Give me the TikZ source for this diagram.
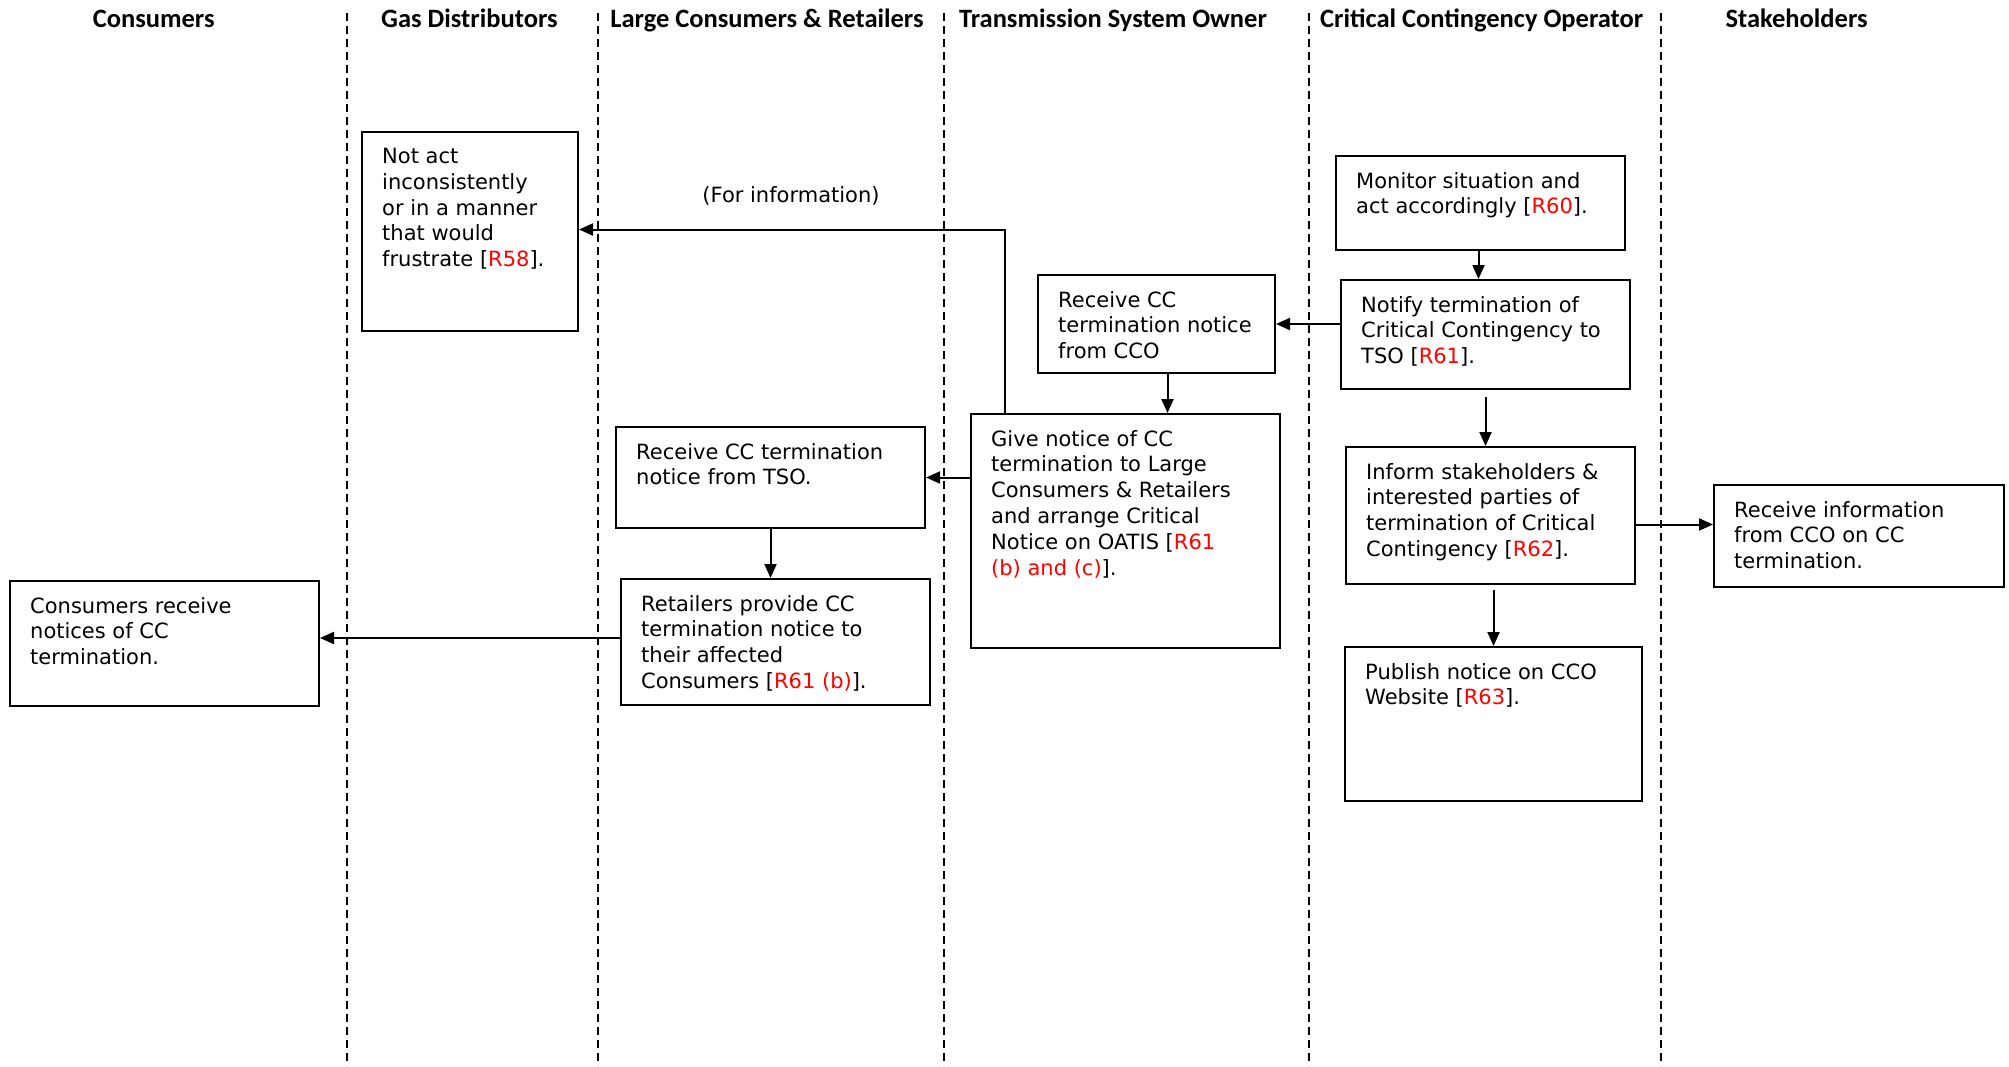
\documentclass[tikz,border=0pt]{standalone}
\usepackage{fontspec}
\setmainfont{DejaVu Sans}
\newfontfamily\hdrfont{Carlito}
\usetikzlibrary{arrows.meta,calc}
\newcommand\rr[1]{\textcolor{red}{#1}}
\begin{document}
\begin{tikzpicture}[x=1pt,y=-1pt,
  box/.style={draw,line width=2pt,anchor=north west,inner sep=0pt},
  txt/.style={anchor=north west,inner sep=0pt,align=left,font=\fontsize{21}{25.8}\selectfont},
  hdr/.style={anchor=base,inner sep=0pt,font=\hdrfont\bfseries\fontsize{26.5}{30}\selectfont},
  divider/.style={line width=2pt,dash pattern=on 8pt off 5pt},
  arr/.style={line width=2pt,-{Triangle[length=14pt,width=12pt]}}]
\useasboundingbox (0,0) rectangle (2009,1066);
% headers
\node[hdr] (h1) at (153.7,27) {Consumers};
\node[hdr] (h2) at (469.4,27) {Gas Distributors};
\node[hdr] (h3) at (767,27) {Large Consumers \& Retailers};
\node[hdr] (h4) at (1113,27) {Transmission System Owner};
\node[hdr] (h5) at (1481.7,27) {Critical Contingency Operator};
\node[hdr] (h6) at (1796.6,27) {Stakeholders};
% dividers
\foreach \xx in {347,598,944,1309,1661}
  \draw[divider] (\xx,13) -- (\xx,1066);
% boxes
\node[box,minimum width=216,minimum height=199] (gas) at (361,131) {};
\node[txt] (gast) at ($(gas.north west)+(21,17)$) {Not act\\inconsistently\\or in a manner\\that would\\frustrate [\rr{R58}].};
\node[box,minimum width=289,minimum height=94] (mon) at (1335,155) {};
\node[txt] (mont) at ($(mon.north west)+(21,17)$) {Monitor situation and\\act accordingly [\rr{R60}].};
\node[box,minimum width=237,minimum height=98] (rcco) at (1037,274) {};
\node[txt] (rccot) at ($(rcco.north west)+(21,17)$) {Receive CC\\termination notice\\from CCO};
\node[box,minimum width=289,minimum height=109] (notify) at (1340,279) {};
\node[txt] (notifyt) at ($(notify.north west)+(21,17)$) {Notify termination of\\Critical Contingency to\\TSO [\rr{R61}].};
\node[box,minimum width=309,minimum height=234] (give) at (970,413) {};
\node[txt] (givet) at ($(give.north west)+(21,17)$) {Give notice of CC\\termination to Large\\Consumers \& Retailers\\and arrange Critical\\Notice on OATIS [\rr{R61}\\\rr{(b) and (c)}].};
\node[box,minimum width=309,minimum height=101] (rtso) at (615,426) {};
\node[txt] (rtsot) at ($(rtso.north west)+(21,17)$) {Receive CC termination\\notice from TSO.};
\node[box,minimum width=309,minimum height=126] (retail) at (620,578) {};
\node[txt] (retailt) at ($(retail.north west)+(21,17)$) {Retailers provide CC\\termination notice to\\their affected\\Consumers [\rr{R61 (b)}].};
\node[box,minimum width=309,minimum height=125] (cons) at (9,580) {};
\node[txt] (const) at ($(cons.north west)+(21,17)$) {Consumers receive\\notices of CC\\termination.};
\node[box,minimum width=289,minimum height=137] (inform) at (1345,446) {};
\node[txt] (informt) at ($(inform.north west)+(21,17)$) {Inform stakeholders \&\\interested parties of\\termination of Critical\\Contingency [\rr{R62}].};
\node[box,minimum width=290,minimum height=102] (rinfo) at (1713,484) {};
\node[txt] (rinfot) at ($(rinfo.north west)+(21,17)$) {Receive information\\from CCO on CC\\termination.};
\node[box,minimum width=297,minimum height=154] (pub) at (1344,646) {};
\node[txt] (pubt) at ($(pub.north west)+(21,17)$) {Publish notice on CCO\\Website [\rr{R63}].};
\node[font=\fontsize{21}{25.8}\selectfont,inner sep=0pt] (info) at (791,196) {(For information)};
% connectors
\coordinate (corner) at ($(give.north west)+(35,0)$);
\draw[arr] ([xshift=-2pt]mon.south) -- ([xshift=-2pt]mon.south |- notify.north);
\draw[arr] (notify.west |- rcco.east) -- (rcco.east);
\draw[arr] ([xshift=11pt]rcco.south) -- ([xshift=11pt]rcco.south |- give.north);
\draw[arr] (corner) |- ([yshift=2pt]gas.east);
\draw[arr] (give.west |- rtso.east) -- (rtso.east);
\draw[arr] (rtso.south) -- (rtso.south |- retail.north);
\draw[arr] ([yshift=4pt]retail.west) -- ([yshift=4pt]retail.west -| cons.east);
\draw[arr] ([yshift=-7pt]notify.south) -- (notify.south |- inform.north);
\draw[arr] ([yshift=-5pt]pub.north |- inform.south) -- (pub.north);
\draw[arr] ([yshift=-9pt]inform.east) -- ([yshift=-9pt]inform.east -| rinfo.west);
\end{tikzpicture}
\end{document}
